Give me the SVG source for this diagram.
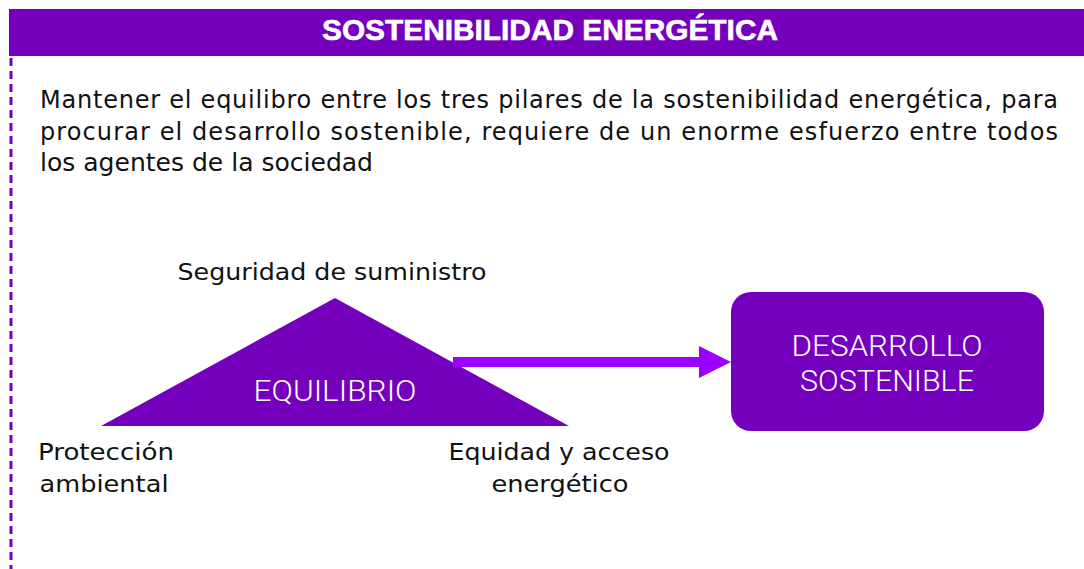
<svg xmlns="http://www.w3.org/2000/svg" width="1084" height="569" viewBox="0 0 1084 569">
<defs>
<style>
.body{font-family:"DejaVu Sans","Liberation Sans",sans-serif;font-size:24px;fill:#111}
.lbl{font-family:"DejaVu Sans","Liberation Sans",sans-serif;font-size:23.5px;fill:#111;text-anchor:middle}
.wt{font-family:Roboto,"Liberation Sans",sans-serif;font-weight:300;font-size:30px;fill:#fff;text-anchor:middle}
.purple{fill:#7400BE}
</style>
</defs>
<rect width="1084" height="569" fill="#fff"/>
<g id="header">
<rect x="9" y="9" width="1075" height="47" class="purple"/>
<line x1="9" y1="57" x2="1084" y2="57" stroke="#fff" stroke-width="2" stroke-dasharray="5,4"/>
<text x="550" y="40" text-anchor="middle" font-family="'Liberation Sans',Arial,sans-serif" font-weight="900" font-size="29" fill="#fff" stroke="#fff" stroke-width="0.6" textLength="456" lengthAdjust="spacingAndGlyphs">SOSTENIBILIDAD ENERGÉTICA</text>
</g>
<line id="border" x1="11" y1="58" x2="11" y2="569" stroke="#7400BE" stroke-width="3" stroke-dasharray="8,5"/>
<g id="intro">
<text class="body" x="40" y="108" textLength="1018" lengthAdjust="spacing">Mantener el equilibro entre los tres pilares de la sostenibilidad energética, para</text>
<text class="body" x="40" y="140" textLength="1018" lengthAdjust="spacing">procurar el desarrollo sostenible, requiere de un enorme esfuerzo entre todos</text>
<text class="body" x="40" y="171" textLength="333" lengthAdjust="spacingAndGlyphs">los agentes de la sociedad</text>
</g>
<g id="equilibrio">
<polygon points="335,298 569,426 101,426" class="purple"/>
<text class="wt" x="335" y="401" textLength="163" lengthAdjust="spacingAndGlyphs">EQUILIBRIO</text>
</g>
<g id="seguridad"><text class="lbl" x="332" y="280" textLength="309" lengthAdjust="spacingAndGlyphs">Seguridad de suministro</text></g>
<g id="proteccion"><text class="lbl" x="106" y="460" textLength="136" lengthAdjust="spacingAndGlyphs">Protección</text><text class="lbl" x="104" y="492" textLength="129" lengthAdjust="spacingAndGlyphs">ambiental</text></g>
<g id="equidad"><text class="lbl" x="559" y="460" textLength="221" lengthAdjust="spacingAndGlyphs">Equidad y acceso</text><text class="lbl" x="560" y="492" textLength="137" lengthAdjust="spacingAndGlyphs">energético</text></g>
<g id="desarrollo">
<rect x="731" y="292" width="313" height="139" rx="20" class="purple"/>
<text class="wt" x="887" y="356" textLength="191" lengthAdjust="spacingAndGlyphs">DESARROLLO</text>
<text class="wt" x="887" y="391" textLength="174" lengthAdjust="spacingAndGlyphs">SOSTENIBLE</text>
</g>
<g id="connectors">
<rect x="453" y="357" width="248" height="10" fill="#9900FF"/>
<polygon points="699,346 731,362 699,378" fill="#9900FF"/>
</g>
</svg>
